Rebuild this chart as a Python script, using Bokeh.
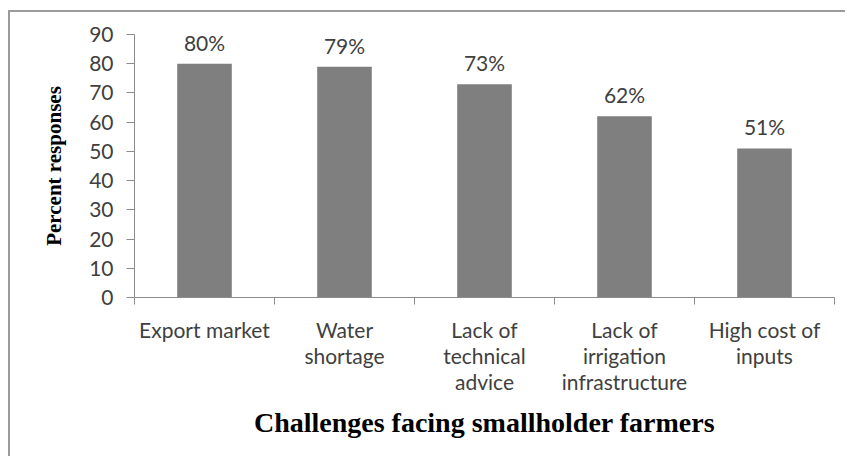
from bokeh.plotting import figure
from bokeh.models import ColumnDataSource, FixedTicker, Range1d, LabelSet
from bokeh.core.properties import value
from bokeh.embed import file_html
from bokeh.resources import INLINE

categories = ["Export market", "Water\nshortage", "Lack of\ntechnical\nadvice",
              "Lack of\nirrigation\ninfrastructure", "High cost of\ninputs"]
values = [80, 79, 73, 62, 51]
value_labels = ["80%", "79%", "73%", "62%", "51%"]
y_ticks = [0, 10, 20, 30, 40, 50, 60, 70, 80, 90]

centers = [i + 0.5 for i in range(len(categories))]
source = ColumnDataSource(dict(x=centers, top=values, lab=value_labels))

p = figure(output_backend="svg", toolbar_location=None,
           frame_width=700, frame_height=263,
           min_border_left=124, min_border_top=22, min_border_right=13, min_border_bottom=161,
           x_range=Range1d(0, len(categories)), y_range=Range1d(0, 90))
p.styles = {"box-shadow": "-2px -2px 0px 0px #9a9a9a",
            "margin-left": "10px", "margin-top": "12px"}
p.outline_line_color = None
p.background_fill_color = "white"
p.border_fill_color = "white"
p.xgrid.visible = False
p.ygrid.visible = False

p.vbar(x="x", top="top", width=0.39, bottom=0, source=source,
       fill_color="#7f7f7f", line_color=None)

labels = LabelSet(x="x", y="top", text="lab", source=source, y_offset=9,
                  text_align="center", text_baseline="bottom",
                  text_font=value("Lato"), text_font_size=value("21px"), text_color=value("#404040"))
p.add_layout(labels)

axis_col = "#8c8c8c"
tick_col = "#404040"

# x axis
p.xaxis.ticker = FixedTicker(ticks=centers, minor_ticks=list(range(len(categories) + 1)))
p.xaxis.major_label_overrides = {c: lab for c, lab in zip(centers, categories)}
p.xaxis.major_tick_line_color = None
p.xaxis.major_tick_out = 0
p.xaxis.major_tick_in = 0
p.xaxis.minor_tick_line_color = axis_col
p.xaxis.minor_tick_out = 7
p.xaxis.minor_tick_in = 0
p.xaxis.axis_line_color = axis_col
p.xaxis.major_label_standoff = 12
p.xaxis.major_label_text_font = "Lato"
p.xaxis.major_label_text_font_size = "21px"
p.xaxis.major_label_text_color = tick_col
p.xaxis.major_label_text_line_height = 1.05
p.xaxis.axis_label = "Challenges facing smallholder farmers"
p.xaxis.axis_label_text_font = "Liberation Serif"
p.xaxis.axis_label_text_font_style = "bold"
p.xaxis.axis_label_text_font_size = "28px"
p.xaxis.axis_label_text_color = "black"
p.xaxis.axis_label_standoff = 10

# y axis
p.yaxis.ticker = FixedTicker(ticks=y_ticks)
p.yaxis.minor_tick_line_color = None
p.yaxis.major_tick_line_color = axis_col
p.yaxis.major_tick_out = 8
p.yaxis.major_tick_in = 0
p.yaxis.axis_line_color = axis_col
p.yaxis.major_label_standoff = 13
p.yaxis.major_label_text_font = "Lato"
p.yaxis.major_label_text_font_size = "21px"
p.yaxis.major_label_text_color = tick_col
p.yaxis.axis_label = "Percent responses"
p.yaxis.axis_label_text_font = "Liberation Serif"
p.yaxis.axis_label_text_font_style = "bold"
p.yaxis.axis_label_text_font_size = "21px"
p.yaxis.axis_label_text_color = "black"
p.yaxis.axis_label_standoff = 20

open("out.html", "w").write(file_html(p, INLINE))
